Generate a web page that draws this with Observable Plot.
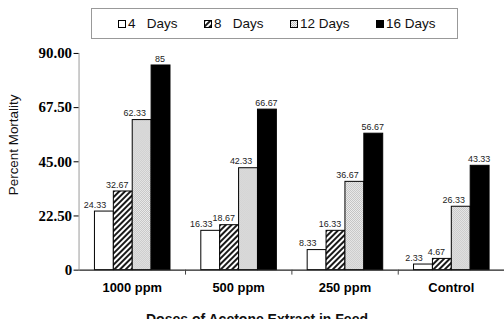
<!DOCTYPE html>
<html>
<head>
<meta charset="utf-8">
<script src="https://cdn.jsdelivr.net/npm/d3@7"></script>
<script src="https://cdn.jsdelivr.net/npm/@observablehq/plot@0.6"></script>
<style>
  html, body { margin: 0; padding: 0; background: #fff; overflow: hidden; }
  #wrap { position: relative; width: 504px; height: 319px; overflow: hidden;
          font-family: "Liberation Sans", Arial, sans-serif; color: #000; }
  #legend { position: absolute; left: 91px; top: 8px; width: 367px; height: 31px;
            border: 1px solid #999; box-sizing: border-box; }
  .item { position: absolute; top: 0; height: 29px; display: flex; align-items: center;
          font-size: 13.5px; white-space: pre; color: #111; }
  .item svg { margin-right: 2px; }
  #chart { position: absolute; left: 0; top: 44px; }
  #xtitle { position: absolute; left: 0; width: 514px; top: 311px; text-align: center;
            font-size: 14px; font-weight: bold; line-height: 16px; color: #111; }
</style>
</head>
<body>
<svg width="0" height="0" style="position:absolute">
  <defs>
    <pattern id="hatch" patternUnits="userSpaceOnUse" width="4" height="4" patternTransform="rotate(45)">
      <rect width="4" height="4" fill="#fff"></rect>
      <line x1="1" y1="0" x2="1" y2="4" stroke="#000" stroke-width="1.8"></line>
    </pattern>
    <pattern id="dots" patternUnits="userSpaceOnUse" width="2" height="2">
      <rect width="2" height="2" fill="#f2f2f2"></rect>
      <rect x="0" y="0" width="1" height="1" fill="#bdbdbd"></rect>
      <rect x="1" y="1" width="1" height="1" fill="#bdbdbd"></rect>
    </pattern>
  </defs>
</svg>
<div id="wrap">
  <div id="legend"></div>
  <div id="chart"></div>
  <div id="xtitle">Doses of Acetone Extract in Feed</div>
</div>
<script>
// Dose groups and exposure periods
const groups = ["1000 ppm", "500 ppm", "250 ppm", "Control"];
const series = ["4 Days", "8 Days", "12 Days", "16 Days"];
const legendLabels = ["4   Days", "8   Days", "12 Days", "16 Days"];

// Percent mortality per dose, one array per exposure period
const days4  = [24.33, 16.33, 8.33, 2.33];
const days8  = [32.67, 18.67, 16.33, 4.67];
const days12 = [62.33, 42.33, 36.67, 26.33];
const days16 = [85, 66.67, 56.67, 43.33];

// Y axis ticks
const yTicks = [0, 22.5, 45, 67.5, 90];

const values = [days4, days8, days12, days16];
const fills = ["#fff", "url(#hatch)", "url(#dots)", "#000"];
const labelShift = [-9.5, -6, -7.5, -1];

const table = groups.flatMap((g, i) =>
  series.map((s, j) => ({group: g, series: s, value: values[j][i]}))
);

const width = 507, marginLeft = 78, marginRight = 0;
const halfStep = (width - marginLeft - marginRight) / groups.length / 2;

const chart = Plot.plot({
  width,
  height: 262,
  marginLeft,
  marginRight,
  marginTop: 9,
  marginBottom: 35,
  style: {fontFamily: "'Liberation Sans', Arial, sans-serif", fontSize: "10px", background: "#fff"},
  fx: {domain: groups, padding: 0, label: null},
  x: {domain: series, paddingInner: 0, paddingOuter: 0.75, axis: null},
  y: {domain: [0, 90], label: null},
  color: {domain: series, range: fills},
  marks: [
    Plot.barY(table, {fx: "group", x: "series", y: "value", fill: "series", stroke: "#000", strokeWidth: 1}),
    ...series.map((s, j) => Plot.text(table.filter(d => d.series === s), {
      fx: "group", x: "series", y: "value",
      text: d => String(d.value),
      lineAnchor: "bottom", dy: -4, dx: labelShift[j],
      fontSize: 9, fill: "#222"
    })),
    Plot.ruleY([0], {stroke: "#222", strokeWidth: 1.2}),
    Plot.frame({anchor: "left", stroke: "#9a9a9a", facetAnchor: "left"}),
    Plot.axisY({
      ticks: yTicks,
      tickFormat: d => d === 0 ? "0" : d.toFixed(2),
      tickSize: 5, tickPadding: 2,
      fontSize: 15, fontWeight: "bold", fontFamily: "'Liberation Serif', serif",
      label: null
    }),
    Plot.axisFx({anchor: "bottom", tickSize: 0, tickPadding: 13, fontSize: 13, fontWeight: "bold", label: null}),
    Plot.axisFx({anchor: "bottom", tickSize: 5, tickFormat: () => "", dx: halfStep, stroke: "#444", label: null}),
    Plot.text(["Percent Mortality"], {
      frameAnchor: "left", textAnchor: "middle", rotate: -90, dx: -66, dy: -17,
      fontSize: 13.5, fill: "#111", facetAnchor: "left"
    })
  ]
});
document.getElementById("chart").appendChild(chart);

// Legend with patterned swatches
const legend = document.getElementById("legend");
series.forEach((s, j) => {
  const item = document.createElement("div");
  item.className = "item";
  item.style.left = (26 + 86 * j) + "px";
  item.innerHTML = `<svg width="8" height="8"><rect x="0.5" y="0.5" width="7" height="7" fill="${fills[j]}" stroke="#000"></rect></svg>`;
  item.appendChild(document.createTextNode(legendLabels[j]));
  legend.appendChild(item);
});
</script>
</body>
</html>
